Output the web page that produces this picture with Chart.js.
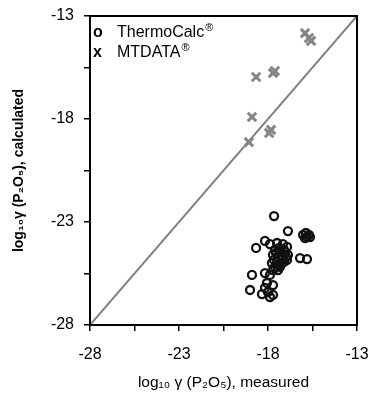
<!DOCTYPE html>
<html>
<head>
<meta charset="utf-8">
<script src="https://cdn.jsdelivr.net/npm/chart.js@4/dist/chart.umd.min.js"></script>
<style>
  html, body { margin: 0; padding: 0; background: #ffffff; }
  #wrap { width: 371px; height: 397px; position: relative; }
</style>
</head>
<body>
<div id="wrap"><canvas id="c" width="371" height="397"></canvas></div>
<script>
// ---- Data ----
const thermoCalcMeasured = [-17.66, -16.88, -16.03, -15.81, -15.64, -15.92, -18.67, -18.17, -17.89, -17.49,
  -17.16, -16.93, -17.61, -17.33, -17.04, -16.88, -17.72, -17.44, -17.16, -16.93,
  -17.49, -17.21, -17.61, -17.33, -17.72, -17.44, -16.20, -15.81, -18.90, -18.17,
  -17.89, -18.06, -17.72, -18.17, -19.01, -18.34, -18.00, -17.72, -17.89,
  -17.38, -17.10, -17.55, -17.27, -16.99, -17.66, -17.38, -17.10, -17.78, -15.87, -15.70];
const thermoCalcCalculated = [-22.71, -23.44, -23.63, -23.73, -23.73, -23.78, -24.26, -23.92, -24.07, -24.02,
  -24.07, -24.21, -24.36, -24.46, -24.46, -24.60, -24.60, -24.70, -24.75, -24.84,
  -24.94, -24.99, -25.18, -25.18, -25.33, -25.33, -24.75, -24.80, -25.57, -25.48,
  -25.57, -25.96, -26.06, -26.20, -26.30, -26.50, -26.40, -26.54, -26.64,
  -24.26, -24.36, -24.50, -24.65, -24.70, -24.84, -25.09, -24.94, -24.99, -23.53, -23.63];

const mtdataMeasured = [-15.92, -15.70, -15.58, -18.67, -17.72, -17.61, -18.90, -17.94, -17.83, -19.07];
const mtdataCalculated = [-13.83, -14.07, -14.21, -15.96, -15.77, -15.67, -17.90, -18.68, -18.53, -19.12];

const identityLine = [-28, -13];

const axisMin = -28;
const axisMax = -13;
const tickValues = [-28, -25.5, -23, -20.5, -18, -15.5, -13];
const tickLabels = ['-28', '', '-23', '', '-18', '', '-13'];

const seriesNames = ['ThermoCalc', 'MTDATA'];
const xTitle = 'log\u2081\u2080 \u03b3 (P\u2082O\u2085), measured';
const yTitle = 'log\u2081\u2080\u03b3 (P\u2082O\u2085), calculated';

// ---- Build ----
const FONT = "'Liberation Sans', Arial, Helvetica, sans-serif";

function toPoints(xs, ys) { return xs.map((x, i) => ({ x: x, y: ys[i] })); }

const framePlugin = {
  id: 'frame',
  afterDatasetsDraw(chart) {
    const a = chart.chartArea;
    const ctx = chart.ctx;
    ctx.save();
    ctx.strokeStyle = '#000';
    ctx.lineWidth = 2;
    ctx.strokeRect(a.left, a.top, a.right - a.left, a.bottom - a.top);
    ctx.restore();
  }
};

const legendPlugin = {
  id: 'textLegend',
  afterDraw(chart) {
    const ctx = chart.ctx;
    const a = chart.chartArea;
    const markers = ['o', 'x'];
    ctx.save();
    ctx.fillStyle = '#000';
    ctx.textBaseline = 'alphabetic';
    seriesNames.forEach((name, i) => {
      const y = a.top + 21 + i * 20;
      ctx.font = 'bold 16px ' + FONT;
      ctx.fillText(markers[i], a.left + 3, y);
      ctx.font = '16px ' + FONT;
      const x0 = a.left + 27;
      ctx.fillText(name, x0, y);
      const w = ctx.measureText(name).width;
      ctx.font = '11px ' + FONT;
      ctx.fillText('\u00ae', x0 + w + 1, y - 6);
    });
    ctx.restore();
  }
};

function axisOpts(isX) {
  return {
    type: 'linear',
    min: axisMin,
    max: axisMax,
    afterBuildTicks(scale) { scale.ticks = tickValues.map(v => ({ value: v })); },
    afterFit(scale) {
      if (isX) {
        scale.height = 72;
        scale.paddingRight = 14;
        scale.paddingLeft = 14;
      } else {
        scale.width = 90;
        scale.paddingTop = 10;
        scale.paddingBottom = 10;
      }
    },
    ticks: {
      autoSkip: false,
      maxRotation: 0,
      color: '#000',
      font: { family: FONT, size: 16 },
      padding: isX ? 14 : 10,
      callback(value) {
        const idx = tickValues.indexOf(value);
        return idx >= 0 ? tickLabels[idx] : '';
      }
    },
    grid: {
      display: true,
      drawOnChartArea: false,
      drawTicks: true,
      tickLength: 6,
      color: '#000',
      lineWidth: 1.5
    },
    border: { display: false },
    title: {
      display: true,
      text: isX ? xTitle : yTitle,
      color: '#000',
      font: isX ? { family: FONT, size: 15.5 } : { family: FONT, size: 14, weight: 'bold' },
      padding: isX ? { top: 0, bottom: 5 } : { top: 11, bottom: 0 }
    }
  };
}

new Chart(document.getElementById('c'), {
  type: 'scatter',
  data: {
    datasets: [
      {
        label: seriesNames[0],
        data: toPoints(thermoCalcMeasured, thermoCalcCalculated),
        pointStyle: 'circle',
        pointRadius: 4,
        borderColor: '#111',
        backgroundColor: 'rgba(0,0,0,0)',
        borderWidth: 2.3,
        order: 1
      },
      {
        label: seriesNames[1],
        data: toPoints(mtdataMeasured, mtdataCalculated),
        pointStyle: 'crossRot',
        pointRadius: 6,
        borderColor: '#858585',
        backgroundColor: '#858585',
        borderWidth: 3,
        order: 0
      },
      {
        type: 'line',
        label: 'y = x',
        data: toPoints(identityLine, identityLine),
        borderColor: '#808080',
        borderWidth: 2,
        pointRadius: 0,
        fill: false,
        order: 2
      }
    ]
  },
  options: {
    responsive: false,
    animation: false,
    devicePixelRatio: 1,
    layout: { padding: { left: 0, right: 14, top: 16, bottom: 0 } },
    plugins: { legend: { display: false }, tooltip: { enabled: false } },
    scales: { x: axisOpts(true), y: axisOpts(false) }
  },
  plugins: [framePlugin, legendPlugin]
});
</script>
</body>
</html>
